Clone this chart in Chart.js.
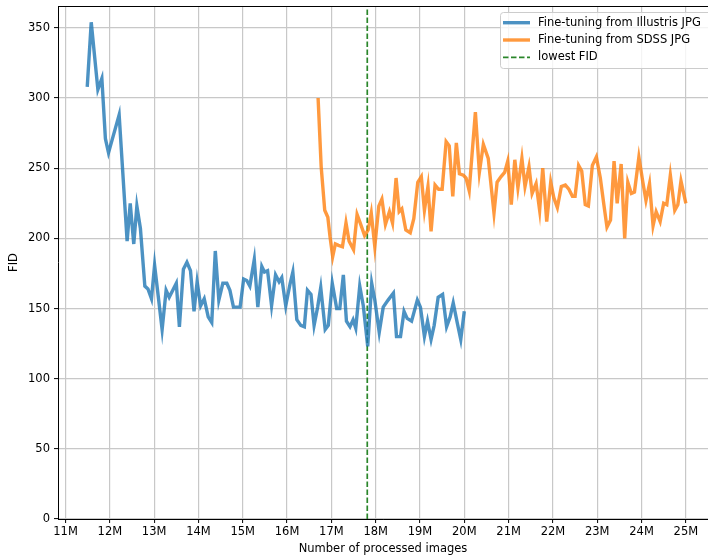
<!DOCTYPE html>
<html>
<head>
<meta charset="utf-8">
<script src="https://cdn.jsdelivr.net/npm/chart.js@4.4.1/dist/chart.umd.min.js"></script>
<style>
  html, body { margin: 0; padding: 0; background: #fff; }
  canvas { display: block; }
</style>
</head>
<body>
<canvas id="fidChart" width="708" height="558"></canvas>
<script>
// x in millions of processed images, y = FID
const illustrisX = [11.49, 11.58, 11.73, 11.82, 11.90, 11.97, 12.05, 12.21, 12.39, 12.46, 12.54, 12.61, 12.69, 12.79, 12.86, 12.94, 13.01, 13.18, 13.27, 13.34, 13.50, 13.57, 13.66, 13.74, 13.82, 13.90, 13.97, 14.05, 14.13, 14.22, 14.30, 14.38, 14.46, 14.55, 14.64, 14.71, 14.79, 14.94, 15.02, 15.09, 15.16, 15.26, 15.34, 15.43, 15.49, 15.56, 15.65, 15.74, 15.82, 15.88, 15.97, 16.07, 16.13, 16.22, 16.31, 16.39, 16.46, 16.54, 16.61, 16.69, 16.76, 16.86, 16.93, 17.02, 17.12, 17.19, 17.27, 17.34, 17.42, 17.49, 17.55, 17.64, 17.72, 17.82, 17.91, 17.98, 18.08, 18.17, 18.28, 18.40, 18.47, 18.56, 18.64, 18.71, 18.81, 18.94, 19.01, 19.10, 19.17, 19.25, 19.32, 19.41, 19.51, 19.60, 19.68, 19.75, 19.84, 19.92, 20.00];
const illustrisFid = [308, 354, 306, 314, 271, 261, 270, 288, 198, 225, 196, 223, 207, 166, 164, 157, 181, 135, 163, 158, 168, 137, 178, 183, 177, 148, 169, 152, 157, 144, 140, 191, 156, 168, 168, 163, 151, 151, 171, 170, 166, 185, 151, 180, 176, 177, 152, 174, 169, 172, 152, 168, 176, 142, 138, 137, 163, 160, 138, 151, 165, 135, 138, 168, 150, 150, 174, 141, 137, 142, 136, 166, 152, 123, 168, 156, 133, 151, 156, 161, 130, 130, 148, 143, 141, 156, 151, 130, 141, 128, 138, 158, 160, 137, 144, 154, 140, 128, 148];

const sdssX = [16.70, 16.77, 16.85, 16.92, 16.97, 17.03, 17.09, 17.16, 17.25, 17.33, 17.40, 17.50, 17.58, 17.65, 17.75, 17.83, 17.90, 17.98, 18.07, 18.14, 18.22, 18.31, 18.38, 18.46, 18.53, 18.59, 18.68, 18.78, 18.86, 18.95, 19.03, 19.10, 19.18, 19.25, 19.34, 19.42, 19.50, 19.59, 19.66, 19.74, 19.82, 19.89, 19.98, 20.04, 20.11, 20.25, 20.34, 20.43, 20.54, 20.67, 20.74, 20.83, 20.91, 20.98, 21.06, 21.14, 21.21, 21.30, 21.37, 21.46, 21.53, 21.62, 21.70, 21.77, 21.86, 21.95, 22.02, 22.10, 22.19, 22.28, 22.36, 22.44, 22.50, 22.58, 22.65, 22.73, 22.80, 22.89, 22.98, 23.07, 23.15, 23.22, 23.30, 23.38, 23.45, 23.54, 23.62, 23.69, 23.77, 23.84, 23.94, 24.03, 24.10, 24.18, 24.26, 24.33, 24.42, 24.50, 24.57, 24.65, 24.75, 24.82, 24.89, 25.00];
const sdssFid = [300, 251, 220, 215, 201, 187, 196, 195, 194, 211, 198, 192, 217, 211, 202, 206, 218, 194, 223, 228, 210, 219, 211, 243, 219, 221, 206, 204, 214, 240, 244, 220, 237, 205, 238, 235, 235, 269, 266, 230, 268, 246, 245, 243, 234, 290, 247, 267, 257, 218, 240, 244, 247, 255, 224, 256, 236, 257, 237, 251, 232, 239, 220, 250, 212, 240, 229, 222, 237, 238, 235, 230, 230, 252, 248, 224, 223, 252, 258, 243, 224, 208, 213, 255, 225, 253, 200, 240, 232, 233, 258, 240, 227, 239, 209, 219, 212, 225, 224, 245, 220, 224, 241, 225];

const lowestFidX = 17.81;

const xTicks = [11, 12, 13, 14, 15, 16, 17, 18, 19, 20, 21, 22, 23, 24, 25];
const yTicks = [0, 50, 100, 150, 200, 250, 300, 350];
const seriesLabels = ['Fine-tuning from Illustris JPG', 'Fine-tuning from SDSS JPG', 'lowest FID'];

const FONT = 'DejaVu Sans';

function toPoints(xs, ys) {
    return xs.map((x, i) => ({ x: x, y: ys[i] }));
}

// top spine + matplotlib style legend box
const frameAndLegend = {
    id: 'frameAndLegend',
    afterDraw(chart) {
        const ctx = chart.ctx;
        const area = chart.chartArea;
        ctx.save();
        ctx.strokeStyle = '#000';
        ctx.lineWidth = 1;
        ctx.beginPath();
        ctx.moveTo(area.left, area.top + 0.5);
        ctx.lineTo(area.right, area.top + 0.5);
        ctx.stroke();

        // legend frame
        const bx = 500.5, by = 12.5, bw = 230, bh = 56;
        ctx.fillStyle = 'rgba(255,255,255,0.8)';
        ctx.strokeStyle = '#cccccc';
        ctx.beginPath();
        ctx.roundRect(bx, by, bw, bh, 3);
        ctx.fill();
        ctx.stroke();

        const rows = [22.7, 40, 57.3];
        chart.data.datasets.forEach((ds, i) => {
            const y = rows[i];
            ctx.strokeStyle = ds.borderColor;
            ctx.lineWidth = ds.borderWidth;
            ctx.setLineDash(ds.borderDash || []);
            ctx.beginPath();
            ctx.moveTo(503, y);
            ctx.lineTo(530, y);
            ctx.stroke();
            ctx.setLineDash([]);
            ctx.fillStyle = '#000';
            ctx.font = '11.5px "' + FONT + '"';
            ctx.textBaseline = 'middle';
            ctx.textAlign = 'left';
            ctx.fillText(ds.label, 538, y);
        });
        ctx.restore();
    }
};

const ctx = document.getElementById('fidChart').getContext('2d');
new Chart(ctx, {
    type: 'line',
    data: {
        datasets: [
            {
                label: seriesLabels[0],
                data: toPoints(illustrisX, illustrisFid),
                borderColor: 'rgba(31,119,180,0.8)',
                borderWidth: 3.4,
                pointRadius: 0,
                tension: 0
            },
            {
                label: seriesLabels[1],
                data: toPoints(sdssX, sdssFid),
                borderColor: 'rgba(255,127,14,0.8)',
                borderWidth: 3.4,
                pointRadius: 0,
                tension: 0
            },
            {
                label: seriesLabels[2],
                data: [{ x: lowestFidX, y: 0 }, { x: lowestFidX, y: 400 }],
                borderColor: '#2a862a',
                borderWidth: 1.7,
                borderDash: [5.5, 2.5],
                pointRadius: 0
            }
        ]
    },
    options: {
        responsive: false,
        animation: false,
        devicePixelRatio: 1,
        layout: { padding: { top: 6, right: 0, bottom: 0, left: 0 } },
        plugins: {
            legend: { display: false },
            tooltip: { enabled: false }
        },
        scales: {
            x: {
                type: 'linear',
                min: 10.83,
                max: 25.5,
                afterBuildTicks: (scale) => { scale.ticks = xTicks.map(v => ({ value: v })); },
                afterFit: (scale) => {
                    scale.height = 39;
                    scale.paddingLeft = 0;
                    scale.paddingRight = 0;
                },
                ticks: {
                    color: '#000',
                    padding: 2,
                    maxRotation: 0,
                    autoSkip: false,
                    font: { family: FONT, size: 11.5 },
                    callback: (v) => v + 'M'
                },
                grid: { color: '#c8c8c8', lineWidth: 1.2, tickColor: '#000', tickLength: 4, tickWidth: 1 },
                border: { color: '#000', width: 1 },
                title: {
                    display: true,
                    text: 'Number of processed images',
                    color: '#000',
                    font: { family: FONT, size: 11.5 },
                    padding: { top: 0, bottom: 2 }
                }
            },
            y: {
                type: 'linear',
                min: 0,
                max: 365.6,
                afterBuildTicks: (scale) => { scale.ticks = yTicks.map(v => ({ value: v })); },
                afterFit: (scale) => {
                    scale.width = 58;
                    scale.paddingTop = 0;
                    scale.paddingBottom = 0;
                },
                ticks: {
                    color: '#000',
                    padding: 4,
                    font: { family: FONT, size: 11.5 }
                },
                grid: { color: '#c8c8c8', lineWidth: 1.2, tickColor: '#000', tickLength: 4, tickWidth: 1 },
                border: { color: '#000', width: 1 },
                title: {
                    display: true,
                    text: 'FID',
                    color: '#000',
                    font: { family: FONT, size: 11.5 },
                    padding: { top: 7, bottom: 0 }
                }
            }
        }
    },
    plugins: [frameAndLegend]
});
</script>
</body>
</html>
